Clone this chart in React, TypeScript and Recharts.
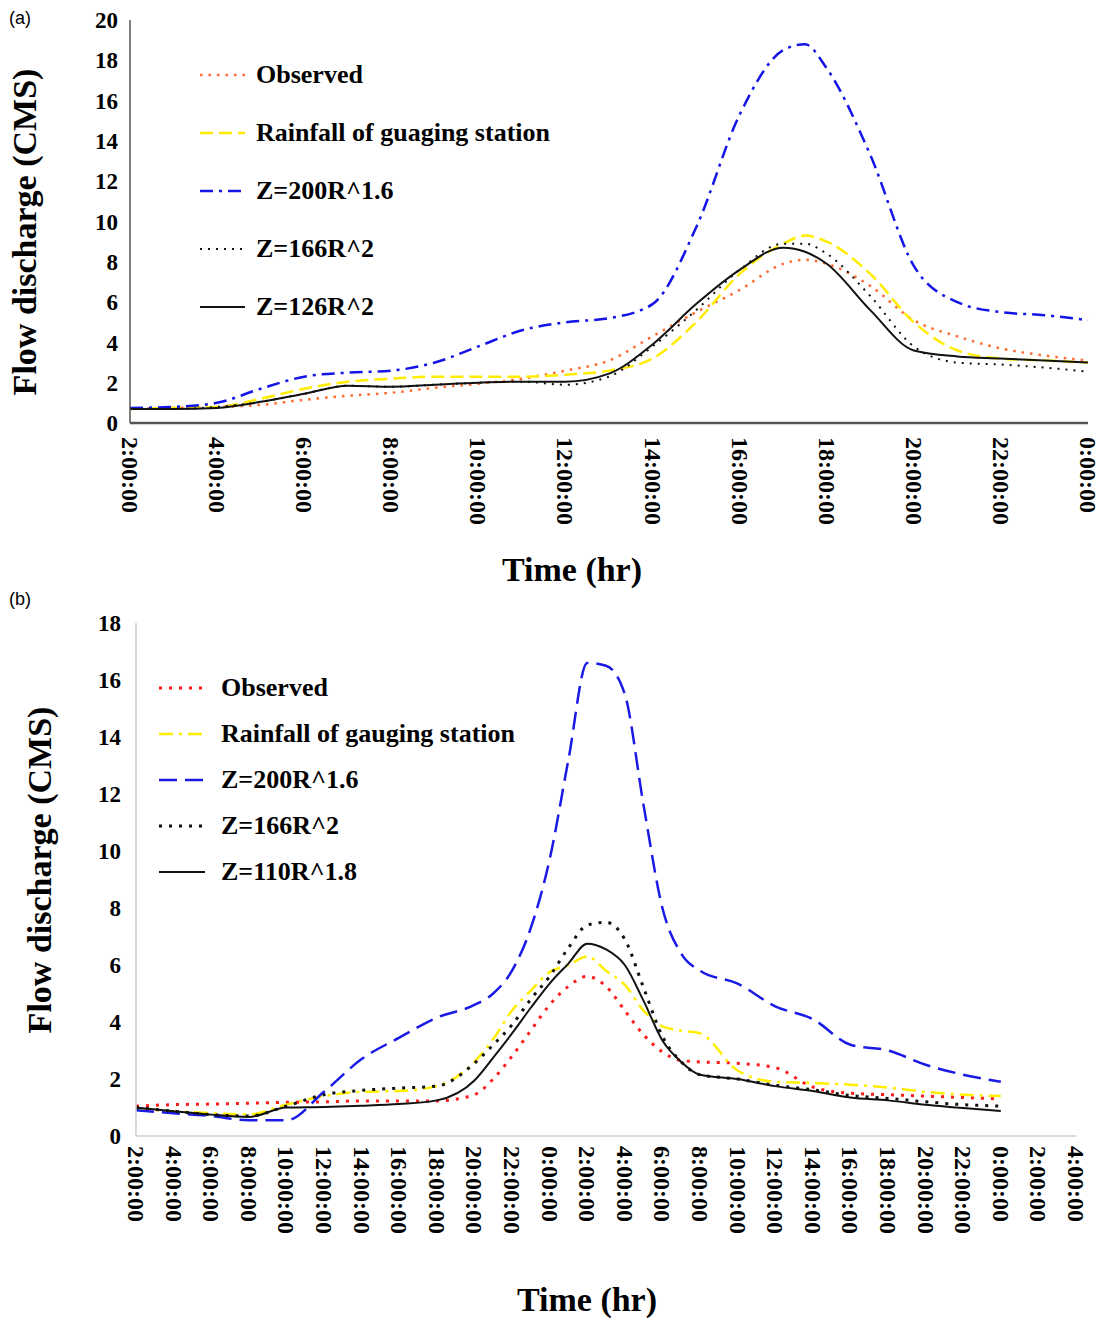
import { LineChart, Line, XAxis, YAxis, Legend } from 'recharts';

// ---- panel (a) ----
const hoursA = [2, 3, 4, 5, 6, 7, 8, 9, 10, 11, 12, 13, 14, 15, 16, 17, 17.5, 18, 19, 20, 21, 22, 23, 24];
const observedA = [0.7, 0.75, 0.8, 0.9, 1.15, 1.35, 1.5, 1.75, 1.95, 2.2, 2.6, 3.1, 4.3, 5.5, 6.6, 7.9, 8.1, 7.9, 6.8, 5.1, 4.3, 3.7, 3.35, 3.1];
const rainfallA = [0.7, 0.75, 0.8, 1.2, 1.7, 2.05, 2.2, 2.3, 2.3, 2.3, 2.4, 2.6, 3.2, 5.0, 7.4, 8.9, 9.3, 9.0, 7.4, 5.0, 3.6, 3.2, 3.1, 3.0];
const z200A = [0.75, 0.8, 1.0, 1.7, 2.3, 2.5, 2.6, 3.0, 3.8, 4.6, 5.0, 5.2, 5.9, 9.7, 15.3, 18.5, 18.8, 17.6, 13.3, 7.8, 6.0, 5.5, 5.35, 5.1];
const z166A = [0.7, 0.7, 0.8, 1.05, 1.45, 1.85, 1.8, 1.9, 2.0, 2.05, 1.9, 2.3, 3.8, 5.6, 7.6, 8.9, 8.9, 8.4, 6.3, 3.8, 3.0, 2.9, 2.75, 2.55];
const z126A = [0.7, 0.7, 0.75, 1.05, 1.45, 1.85, 1.8, 1.9, 2.0, 2.05, 2.05, 2.45, 3.9, 5.9, 7.6, 8.7, 8.5, 7.9, 5.6, 3.6, 3.3, 3.2, 3.1, 3.0];
const xTicksA = [2, 4, 6, 8, 10, 12, 14, 16, 18, 20, 22, 24];
const yTicksA = [0, 2, 4, 6, 8, 10, 12, 14, 16, 18, 20];

// ---- panel (b) ----
const hoursB = [2, 4, 6, 8, 10, 12, 14, 16, 18, 20, 21, 22, 23, 24, 25, 26, 27, 28, 29, 30, 31, 32, 34, 36, 38, 40, 42, 44, 46, 48];
const observedB = [1.05, 1.1, 1.12, 1.15, 1.18, 1.2, 1.23, 1.23, 1.23, 1.45, 2.0, 2.8, 3.7, 4.6, 5.25, 5.6, 5.25, 4.4, 3.55, 2.95, 2.65, 2.6, 2.55, 2.4, 1.72, 1.5, 1.45, 1.4, 1.35, 1.3];
const rainfallB = [0.95, 0.87, 0.8, 0.76, 1.1, 1.4, 1.55, 1.58, 1.75, 2.6, 3.4, 4.4, 5.1, 5.75, 6.0, 6.3, 5.8, 5.3, 4.4, 3.85, 3.7, 3.6, 2.3, 1.9, 1.86, 1.8, 1.7, 1.55, 1.45, 1.4];
const z200B = [0.9, 0.8, 0.7, 0.55, 0.55, 1.55, 2.7, 3.45, 4.15, 4.6, 5.0, 5.8, 7.3, 9.7, 13.2, 16.6, 16.5, 15.5, 11.6, 8.0, 6.4, 5.8, 5.35, 4.55, 4.1, 3.2, 3.0, 2.5, 2.15, 1.9];
const z166B = [1.0, 0.87, 0.75, 0.7, 1.05, 1.45, 1.6, 1.68, 1.75, 2.55, 3.2, 3.9, 4.8, 5.6, 6.6, 7.4, 7.5, 6.9, 5.2, 3.5, 2.6, 2.15, 2.0, 1.78, 1.62, 1.42, 1.32, 1.2, 1.1, 1.05];
const z110B = [1.0, 0.87, 0.75, 0.67, 1.0, 1.02, 1.06, 1.12, 1.25, 1.95, 2.75, 3.6, 4.5, 5.35, 6.05, 6.75, 6.55, 6.0, 4.74, 3.35, 2.6, 2.15, 2.0, 1.75, 1.58, 1.35, 1.25, 1.1, 0.98, 0.88];
const xTicksB = [2, 4, 6, 8, 10, 12, 14, 16, 18, 20, 22, 24, 26, 28, 30, 32, 34, 36, 38, 40, 42, 44, 46, 48, 50, 52];
const yTicksB = [0, 2, 4, 6, 8, 10, 12, 14, 16, 18];

const dataA = hoursA.map((h, i) => ({
  h, observed: observedA[i], rainfall: rainfallA[i], z200: z200A[i], z166: z166A[i], z126: z126A[i],
}));
const dataB = hoursB.map((h, i) => ({
  h, observed: observedB[i], rainfall: rainfallB[i], z200: z200B[i], z166: z166B[i], z110: z110B[i],
}));

const seriesA = [
  { key: 'observed', name: 'Observed', color: '#ff6a30', dash: '2.5 6', width: 2.5 },
  { key: 'rainfall', name: 'Rainfall of guaging station', color: '#ffec00', dash: '13 6', width: 2.5 },
  { key: 'z200', name: 'Z=200R^1.6', color: '#1414e6', dash: '13 6 3 6', width: 2.5 },
  { key: 'z166', name: 'Z=166R^2', color: '#111', dash: '2 6', width: 2 },
  { key: 'z126', name: 'Z=126R^2', color: '#111', dash: undefined, width: 2 },
];
const seriesB = [
  { key: 'observed', name: 'Observed', color: '#ff1a1a', dash: '3 7', width: 3 },
  { key: 'rainfall', name: 'Rainfall of gauging station', color: '#ffee00', dash: '14 6 3 6', width: 2.5 },
  { key: 'z200', name: 'Z=200R^1.6', color: '#1a1ae6', dash: '18 8', width: 2.5 },
  { key: 'z166', name: 'Z=166R^2', color: '#111', dash: '3 7', width: 3 },
  { key: 'z110', name: 'Z=110R^1.8', color: '#111', dash: undefined, width: 2 },
];

const SERIF = '"Liberation Serif", "Times New Roman", serif';
const fmtHour = (h: number) => `${h % 24}:00:00`;

function RotTick({ x, y, payload }: any) {
  return (
    <text
      x={x}
      y={y}
      transform={`rotate(90, ${x}, ${y})`}
      textAnchor="start"
      dominantBaseline="central"
      fontFamily={SERIF}
      fontWeight="bold"
      fontSize={24}
      fill="#000"
    >
      {fmtHour(payload.value)}
    </text>
  );
}

function SeriesLegend({ items, rowH, sampleW, gap }: any) {
  return (
    <div style={{ fontFamily: SERIF, fontWeight: 'bold', fontSize: 26, color: '#000' }}>
      {items.map((s: any) => (
        <div key={s.key} style={{ display: 'flex', alignItems: 'center', height: rowH }}>
          <svg width={sampleW} height={10}>
            <line x1={0} y1={5} x2={sampleW} y2={5} stroke={s.color} strokeWidth={s.width} strokeDasharray={s.dash} />
          </svg>
          <span style={{ marginLeft: gap, whiteSpace: 'nowrap' }}>{s.name}</span>
        </div>
      ))}
    </div>
  );
}

const titleStyle: any = {
  position: 'absolute',
  fontFamily: SERIF,
  fontWeight: 'bold',
  fontSize: 34,
  whiteSpace: 'nowrap',
  color: '#000',
};
const panelTag: any = {
  position: 'absolute',
  fontFamily: '"Liberation Sans", Arial, sans-serif',
  fontSize: 18,
  color: '#000',
};

export default function App() {
  return (
    <div style={{ position: 'absolute', left: 0, top: 0, width: 1103, height: 1318, background: '#fff', overflow: 'hidden' }}>
      {/* panel (a) */}
      <div style={{ position: 'absolute', left: 0, top: 0 }}>
        <LineChart width={1103} height={590} data={dataA} margin={{ top: 20, right: 15, left: 100, bottom: 87 }}>
          <XAxis
            dataKey="h"
            type="number"
            domain={[2, 24]}
            ticks={xTicksA}
            interval={0}
            height={80}
            tickLine={false}
            tickSize={6}
            tickMargin={8}
            stroke="#555"
            strokeWidth={2.5}
            tick={<RotTick />}
          />
          <YAxis
            type="number"
            domain={[0, 20]}
            ticks={yTicksA}
            interval={0}
            width={30}
            tickLine={false}
            tickSize={6}
            tickMargin={6}
            stroke="#555"
            strokeWidth={1.5}
            tick={{ fontFamily: SERIF, fontWeight: 'bold', fontSize: 23, fill: '#000' }}
          />
          <Legend
            layout="vertical"
            align="center"
            verticalAlign="middle"
            wrapperStyle={{ left: 200, top: 46, width: 'auto' }}
            content={() => <SeriesLegend items={seriesA} rowH={58} sampleW={45} gap={11} />}
          />
          {seriesA.map((s) => (
            <Line
              key={s.key}
              type="monotone"
              dataKey={s.key}
              name={s.name}
              stroke={s.color}
              strokeWidth={s.width}
              strokeDasharray={s.dash}
              dot={false}
              isAnimationActive={false}
            />
          ))}
        </LineChart>
      </div>
      <div style={{ ...panelTag, left: 9, top: 8 }}>(a)</div>
      <div style={{ ...titleStyle, left: 25, top: 232, transform: 'translate(-50%, -50%) rotate(-90deg)' }}>
        Flow discharge (CMS)
      </div>
      <div style={{ ...titleStyle, left: 572, top: 570, transform: 'translate(-50%, -50%)' }}>Time (hr)</div>

      {/* panel (b) */}
      <div style={{ position: 'absolute', left: 0, top: 590 }}>
        <LineChart width={1103} height={728} data={dataB} margin={{ top: 33, right: 27, left: 106, bottom: 102 }}>
          <XAxis
            dataKey="h"
            type="number"
            domain={[2, 52]}
            ticks={xTicksB}
            interval={0}
            height={80}
            tickLine={false}
            tickSize={6}
            tickMargin={4}
            stroke="#cfcfcf"
            strokeWidth={1.5}
            tick={<RotTick />}
          />
          <YAxis
            type="number"
            domain={[0, 18]}
            ticks={yTicksB}
            interval={0}
            width={30}
            tickLine={false}
            tickSize={6}
            tickMargin={9}
            stroke="#cfcfcf"
            strokeWidth={1.5}
            tick={{ fontFamily: SERIF, fontWeight: 'bold', fontSize: 23, fill: '#000' }}
          />
          <Legend
            layout="vertical"
            align="center"
            verticalAlign="middle"
            wrapperStyle={{ left: 159, top: 75, width: 'auto' }}
            content={() => <SeriesLegend items={seriesB} rowH={46} sampleW={46} gap={16} />}
          />
          {seriesB.map((s) => (
            <Line
              key={s.key}
              type="monotone"
              dataKey={s.key}
              name={s.name}
              stroke={s.color}
              strokeWidth={s.width}
              strokeDasharray={s.dash}
              dot={false}
              isAnimationActive={false}
            />
          ))}
        </LineChart>
      </div>
      <div style={{ ...panelTag, left: 9, top: 589 }}>(b)</div>
      <div style={{ ...titleStyle, left: 40, top: 870, transform: 'translate(-50%, -50%) rotate(-90deg)' }}>
        Flow discharge (CMS)
      </div>
      <div style={{ ...titleStyle, left: 587, top: 1300, transform: 'translate(-50%, -50%)' }}>Time (hr)</div>
    </div>
  );
}
